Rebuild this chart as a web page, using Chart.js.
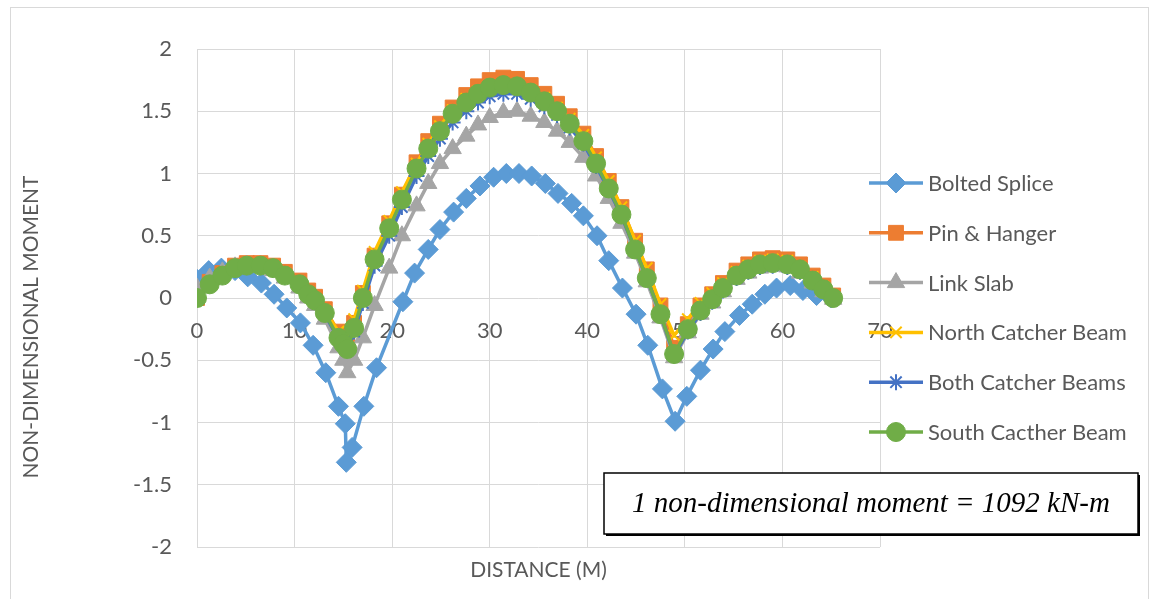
<!DOCTYPE html>
<html><head><meta charset="utf-8">
<script src="https://cdn.jsdelivr.net/npm/chart.js@4.4.1/dist/chart.umd.min.js"></script>
<style>html,body{margin:0;padding:0;background:#fff;}canvas{display:block;}</style>
</head><body>
<canvas id="c" width="1157" height="599"></canvas>
<script>
// ---- data ----
const seriesNames = ['Bolted Splice','Pin & Hanger','Link Slab','North Catcher Beam','Both Catcher Beams','South Cacther Beam'];
const xTickValues = [0,10,20,30,40,50,60,70];
const yTickValues = [-2,-1.5,-1,-0.5,0,0.5,1,1.5,2];
const xTitle = 'DISTANCE (M)';
const yTitle = 'NON-DIMENSIONAL MOMENT';
const noteText = '1 non-dimensional moment = 1092 kN-m';

const xBolted = [0,1.2,2.5,3.9,5.2,6.6,7.9,9.2,10.6,11.9,13.2,14.5,15.2,15.3,15.9,17.1,18.4,21.1,22.3,23.7,24.9,26.3,27.6,29.0,30.4,31.7,33.0,34.3,35.7,37.0,38.4,39.6,41.0,42.2,43.6,45.0,46.2,47.7,49.0,50.2,51.6,52.9,54.1,55.6,56.9,58.2,59.4,60.8,62.1,63.5,65.0];
const yBolted = [0.15,0.22,0.24,0.22,0.17,0.12,0.03,-0.08,-0.2,-0.38,-0.6,-0.87,-1.01,-1.32,-1.2,-0.87,-0.56,-0.03,0.2,0.39,0.55,0.69,0.8,0.9,0.97,1.0,1.0,0.98,0.92,0.84,0.76,0.66,0.5,0.3,0.08,-0.13,-0.38,-0.73,-0.99,-0.79,-0.58,-0.41,-0.27,-0.14,-0.05,0.03,0.08,0.1,0.06,0.02,0.0];

const xOthers = [0,1.3,2.6,3.9,5.1,6.5,7.8,9.0,10.5,11.4,12.1,13.1,14.5,15.0,15.4,16.1,17.0,18.2,19.7,21.0,22.5,23.7,24.9,26.2,27.6,28.8,30.0,31.4,32.8,34.2,35.6,36.9,38.2,39.6,40.9,42.2,43.5,44.9,46.1,47.5,48.9,50.3,51.6,52.8,53.9,55.3,56.5,57.7,59.0,60.5,61.8,63.1,64.2,65.2];
const yPinHanger = [0.0,0.13,0.2,0.26,0.28,0.28,0.26,0.21,0.14,0.06,0.01,-0.09,-0.27,-0.33,-0.36,-0.2,0.04,0.34,0.6,0.83,1.09,1.26,1.4,1.53,1.63,1.7,1.75,1.77,1.76,1.71,1.64,1.56,1.46,1.32,1.14,0.94,0.73,0.46,0.23,-0.06,-0.4,-0.21,-0.06,0.03,0.12,0.22,0.27,0.31,0.32,0.31,0.27,0.18,0.1,0.02];
const yLinkSlab = [0.08,0.16,0.21,0.25,0.26,0.25,0.22,0.16,0.08,0.0,-0.06,-0.17,-0.4,-0.5,-0.6,-0.5,-0.32,-0.06,0.24,0.5,0.74,0.92,1.08,1.2,1.3,1.39,1.45,1.49,1.5,1.46,1.41,1.34,1.25,1.13,0.98,0.8,0.6,0.36,0.13,-0.16,-0.48,-0.28,-0.13,-0.04,0.05,0.15,0.2,0.24,0.26,0.25,0.2,0.12,0.05,-0.01];
const yNorthCatcher = [0,0.12,0.19,0.25,0.27,0.27,0.25,0.2,0.12,0.04,-0.01,-0.1,-0.27,-0.31,-0.33,-0.17,0.06,0.37,0.62,0.85,1.08,1.24,1.38,1.51,1.6,1.66,1.7,1.72,1.71,1.67,1.61,1.53,1.44,1.31,1.13,0.94,0.73,0.46,0.24,-0.05,-0.3,-0.17,-0.04,0.04,0.12,0.21,0.26,0.3,0.31,0.3,0.25,0.17,0.09,0.01];
const yBothCatcher = [0,0.1,0.17,0.23,0.25,0.25,0.23,0.17,0.1,0.02,-0.03,-0.13,-0.33,-0.38,-0.42,-0.27,-0.04,0.26,0.5,0.73,0.98,1.14,1.28,1.41,1.5,1.57,1.62,1.64,1.64,1.6,1.54,1.47,1.37,1.24,1.06,0.87,0.66,0.39,0.16,-0.13,-0.46,-0.27,-0.12,-0.03,0.06,0.16,0.21,0.25,0.26,0.25,0.21,0.13,0.06,0.0];
const ySouthCatcher = [0,0.11,0.18,0.24,0.26,0.26,0.24,0.18,0.11,0.03,-0.02,-0.12,-0.32,-0.37,-0.41,-0.24,0.0,0.31,0.56,0.79,1.04,1.2,1.34,1.48,1.57,1.64,1.69,1.71,1.7,1.65,1.58,1.5,1.4,1.26,1.08,0.88,0.67,0.39,0.16,-0.13,-0.45,-0.25,-0.1,-0.01,0.08,0.18,0.23,0.27,0.28,0.27,0.23,0.14,0.07,0.0];

// ---- styles ----
const TXT = '#595959';
const FONT = 'Lato, "Open Sans", sans-serif';
const styles = [
  {color:'#5B9BD5', pointStyle:'rectRot', radius:10, lw:3.5, bw:1},
  {color:'#ED7D31', pointStyle:'rect', radius:10.5, lw:3.5, bw:1},
  {color:'#A5A5A5', pointStyle:'triangle', radius:10, lw:3.5, bw:1},
  {color:'#FFC000', pointStyle:'crossRot', radius:8, lw:3.5, bw:2},
  {color:'#4472C4', pointStyle:'star', radius:8, lw:3.5, bw:2},
  {color:'#70AD47', pointStyle:'circle', radius:9.5, lw:3.5, bw:1}
];
const pairs = (xs, ys) => xs.map((x, i) => ({x, y: ys[i]}));
const seriesData = [
  pairs(xBolted, yBolted),
  pairs(xOthers, yPinHanger),
  pairs(xOthers, yLinkSlab),
  pairs(xOthers, yNorthCatcher),
  pairs(xOthers, yBothCatcher),
  pairs(xOthers, ySouthCatcher)
];
const datasets = seriesNames.map((name, i) => ({
  label: name,
  data: seriesData[i],
  showLine: true,
  borderColor: styles[i].color,
  backgroundColor: styles[i].color,
  borderWidth: styles[i].lw,
  pointStyle: styles[i].pointStyle,
  pointRadius: styles[i].radius,
  pointBorderWidth: styles[i].bw,
  pointBorderColor: styles[i].color,
  pointBackgroundColor: styles[i].color,
  order: seriesNames.length - i,
  tension: 0
}));

const decor = {
  id: 'decor',
  beforeDraw(chart) {
    const ctx = chart.ctx;
    ctx.save();
    ctx.fillStyle = '#fff';
    ctx.fillRect(0, 0, chart.width, chart.height);
    ctx.strokeStyle = '#D9D9D9';
    ctx.lineWidth = 1;
    ctx.strokeRect(10.5, 7.5, 1138, 600);
    ctx.restore();
  },
  afterDraw(chart) {
    const ctx = chart.ctx;
    const ca = chart.chartArea;
    ctx.save();
    // axis titles
    ctx.fillStyle = TXT;
    ctx.font = '21px ' + FONT;
    ctx.textAlign = 'center';
    ctx.textBaseline = 'middle';
    ctx.fillText(xTitle, (ca.left + ca.right) / 2, 570);
    ctx.save();
    ctx.translate(31, 327);
    ctx.rotate(-Math.PI / 2);
    ctx.fillText(yTitle, 0, 0);
    ctx.restore();
    // legend
    const rowY0 = 183, rowGap = 49.8;
    seriesNames.forEach((name, i) => {
      const y = rowY0 + i * rowGap;
      const s = styles[i];
      ctx.strokeStyle = s.color;
      ctx.lineWidth = s.lw;
      ctx.beginPath();
      ctx.moveTo(869, y);
      ctx.lineTo(923, y);
      ctx.stroke();
      ctx.fillStyle = s.color;
      ctx.strokeStyle = s.color;
      ctx.lineWidth = s.bw;
      Chart.helpers.drawPoint(ctx, {pointStyle: s.pointStyle, radius: s.radius, borderWidth: s.bw, rotation: 0}, 896, y);
      ctx.fillStyle = TXT;
      ctx.font = '22px ' + FONT;
      ctx.textAlign = 'left';
      ctx.textBaseline = 'middle';
      ctx.fillText(name, 928, y + 1);
    });
    // note box
    const bx = 604, by = 473, bw = 534, bh = 61;
    ctx.fillStyle = '#000';
    ctx.fillRect(bx + 2, by + 2, bw, bh);
    ctx.fillStyle = '#fff';
    ctx.fillRect(bx, by, bw, bh);
    ctx.strokeStyle = '#000';
    ctx.lineWidth = 1.5;
    ctx.strokeRect(bx, by, bw, bh);
    ctx.fillStyle = '#000';
    ctx.font = 'italic 29px "Liberation Serif", "Times New Roman", serif';
    ctx.textAlign = 'center';
    ctx.textBaseline = 'middle';
    ctx.fillText(noteText, bx + bw / 2, by + bh / 2 + 1);
    ctx.restore();
  }
};

new Chart(document.getElementById('c'), {
  type: 'scatter',
  data: {datasets},
  options: {
    responsive: false,
    animation: false,
    devicePixelRatio: 1,
    layout: {padding: {left: 0, top: 49, right: 277, bottom: 52}},
    plugins: {legend: {display: false}, tooltip: {enabled: false}},
    scales: {
      x: {
        type: 'linear', min: 0, max: 70, position: {y: 0},
        afterBuildTicks: s => { s.ticks = xTickValues.map(v => ({value: v})); },
        grid: {color: '#D9D9D9', lineWidth: 1, drawTicks: false},
        border: {display: false},
        ticks: {padding: 20, color: TXT, font: {family: FONT, size: 22}, maxRotation: 0, autoSkip: false,
                callback: v => String(v)}
      },
      y: {
        type: 'linear', min: -2, max: 2,
        afterBuildTicks: s => { s.ticks = yTickValues.map(v => ({value: v})); },
        afterFit: s => { s.width = 197; },
        grid: {color: '#D9D9D9', lineWidth: 1, drawTicks: false},
        border: {display: false},
        ticks: {padding: 25, color: TXT, font: {family: FONT, size: 22}, autoSkip: false,
                callback: v => String(v)}
      }
    }
  },
  plugins: [decor]
});
</script>
</body></html>
